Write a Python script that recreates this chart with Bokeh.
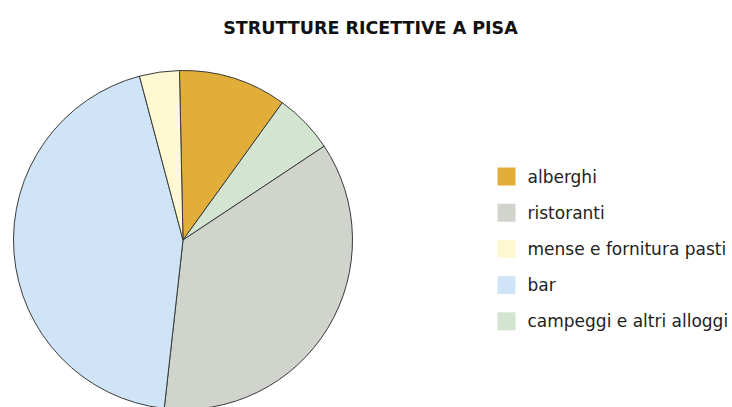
from bokeh.plotting import figure
from bokeh.models import Range1d, ColumnDataSource
from bokeh.embed import file_html
from bokeh.resources import INLINE
from bokeh.core.properties import value
import math

title = "STRUTTURE RICETTIVE A PISA"
categories = ["alberghi", "ristoranti", "mense e fornitura pasti", "bar", "campeggi e altri alloggi"]
shares = [10.3, 36.1, 3.8, 44.1, 5.7]
colors = ["#E1AE3A", "#D0D4CD", "#FFF8D2", "#D0E4F7", "#D3E5D0"]
pie_order = ["alberghi", "campeggi e altri alloggi", "ristoranti", "bar", "mense e fornitura pasti"]

W, H = 732, 407
p = figure(width=W, height=H, output_backend="svg", toolbar_location=None,
           x_range=Range1d(0, W), y_range=Range1d(0, H), min_border=0,
           tools="")
p.axis.visible = False
p.grid.visible = False
p.outline_line_color = None
p.background_fill_color = "white"

# pie
cx, cy, r = 182.5, H - 239.5, 169.5
start0 = 91.2
total = sum(shares)
starts, ends, fills = [], [], []
acc = 0.0
for name in pie_order:
    i = categories.index(name)
    s = math.radians(start0 - acc / total * 360)
    acc += shares[i]
    e = math.radians(start0 - acc / total * 360)
    starts.append(s); ends.append(e); fills.append(colors[i])
src = ColumnDataSource(dict(x=[cx] * len(pie_order), y=[cy] * len(pie_order),
                            start=starts, end=ends, color=fills))
p.wedge(x="x", y="y", radius=r, start_angle="start", end_angle="end",
        direction="clock", fill_color="color", line_color="#3a3a3a",
        line_width=1, source=src)

# title
p.text(x=[370], y=[H - 27], text=[title], text_font=value("DejaVu Sans"),
       text_font_style="bold", text_font_size="17.5px", text_align="center",
       text_baseline="middle", text_color="#111111")

# legend
lx, ly0, step, sq = 506, H - 176, 36.2, 18
lys = [ly0 - k * step for k in range(len(categories))]
p.rect(x=[lx] * len(categories), y=lys, width=sq, height=sq, fill_color=colors,
       line_color=None)
p.text(x=[lx + 21] * len(categories), y=lys, text=categories,
       text_font=value("DejaVu Sans"), text_font_size="17px",
       text_baseline="middle", text_align="left", text_color="#222222")

open("out.html", "w").write(file_html(p, INLINE))
